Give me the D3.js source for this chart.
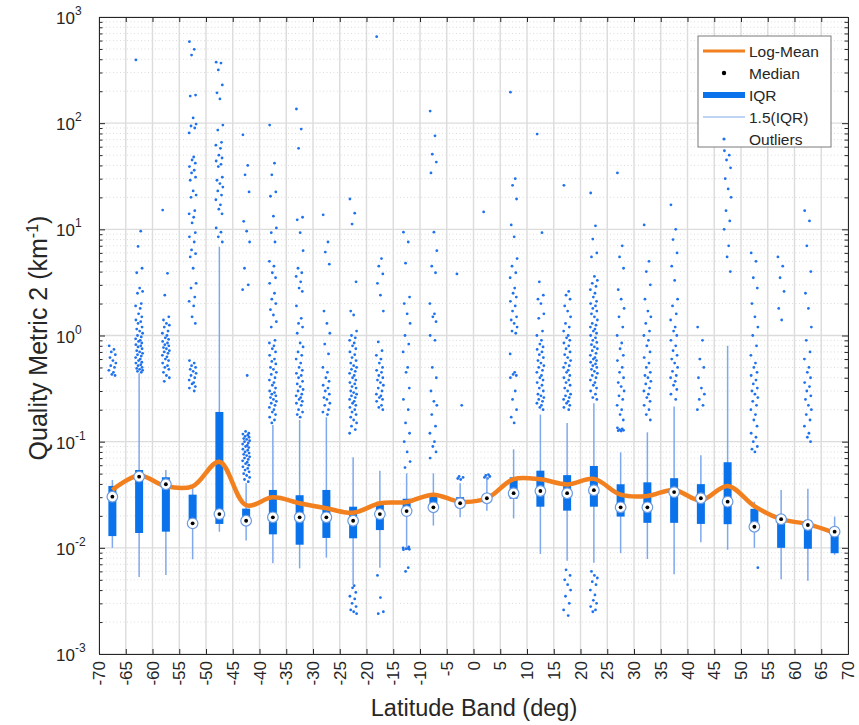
<!DOCTYPE html>
<html>
<head>
<meta charset="utf-8">
<script src="https://cdn.jsdelivr.net/npm/d3@7"></script>
<style>
  body { margin: 0; background: #fff; }
  text { font-family: "Liberation Sans", Arial, sans-serif; fill: #262626; }
</style>
</head>
<body>
<svg id="chart" width="859" height="725"></svg>
<script>
// latitude band centres (deg)
const latBands = [-67.5, -62.5, -57.5, -52.5, -47.5, -42.5, -37.5, -32.5, -27.5, -22.5, -17.5, -12.5, -7.5, -2.5,
                  2.5, 7.5, 12.5, 17.5, 22.5, 27.5, 32.5, 37.5, 42.5, 47.5, 52.5, 57.5, 62.5, 67.5];
const xTicks = [-70, -65, -60, -55, -50, -45, -40, -35, -30, -25, -20, -15, -10, -5, 0, 5, 10, 15, 20, 25, 30, 35, 40, 45, 50, 55, 60, 65, 70];
const yExponents = [-3, -2, -1, 0, 1, 2, 3];

const logMean = [0.0351, 0.048, 0.038, 0.038, 0.0648, 0.0252, 0.0299, 0.0263, 0.0236, 0.0214, 0.0263, 0.027, 0.0317, 0.0272,
                 0.0293, 0.0444, 0.0442, 0.0396, 0.0446, 0.0317, 0.0308, 0.0351, 0.028, 0.0383, 0.0247, 0.0186, 0.0167, 0.0138];
const median  = [0.0303, 0.0468, 0.0397, 0.017, 0.0208, 0.018, 0.0194, 0.0194, 0.0194, 0.018, 0.0208, 0.0222, 0.0241, 0.0263,
                 0.0293, 0.0327, 0.0343, 0.0327, 0.0349, 0.0241, 0.0241, 0.0335, 0.0293, 0.0272, 0.0158, 0.0186, 0.0164, 0.0142];
const q1      = [0.0129, 0.0138, 0.0142, 0.0165, 0.0168, 0.0168, 0.0134, 0.0107, 0.0124, 0.0123, 0.0147, 0.021, 0.023, 0.024,
                 0.027, 0.029, 0.0244, 0.0224, 0.0244, 0.0197, 0.0172, 0.0172, 0.0168, 0.0167, 0.015, 0.01, 0.0098, 0.0089];
const q3      = [0.0383, 0.0541, 0.0462, 0.0317, 0.1905, 0.0234, 0.0351, 0.0313, 0.0351, 0.0244, 0.0266, 0.029, 0.0317, 0.030,
                 0.032, 0.0462, 0.0533, 0.0484, 0.059, 0.0397, 0.0414, 0.0453, 0.0398, 0.064, 0.0233, 0.019, 0.018, 0.0155];
const whiskLo = [0.0100, 0.0053, 0.00555, 0.0078, 0.0142, 0.0117, 0.00715, 0.0064, 0.00808, 0.00447, 0.0065, 0.0100, 0.0162, 0.0194,
                 0.0223, 0.0189, 0.00875, 0.00757, 0.00725, 0.0089, 0.00785, 0.00564, 0.0113, 0.0096, 0.0100, 0.00506, 0.0049, 0.0086];
const whiskHi = [0.0436, 0.44, 0.054, 0.0364, 6.87, 0.0408, 0.1436, 0.16, 0.17, 0.0713, 0.0533, 0.0503, 0.0503, 0.0405,
                 0.0468, 0.0848, 0.18, 0.15, 0.23, 0.0794, 0.1225, 0.214, 0.0745, 0.8, 0.0272, 0.0351, 0.036, 0.0197];

// outliers per band
const outliers = [
  [0.8, 0.74, 0.7, 0.66, 0.62, 0.58, 0.55, 0.52, 0.5, 0.47, 0.45, 0.43, 0.42],
  [394, 9.6, 6.9, 4.3, 3.9, 2.8, 2.6, 2.5, 2.0, 1.9, 1.8, 1.6, 1.5, 1.4, 1.35, 1.3, 1.2, 1.15, 1.1, 1.05, 1.0, 0.97, 0.93, 0.9,
   0.88, 0.85, 0.82, 0.8, 0.78, 0.75, 0.72, 0.7, 0.68, 0.66, 0.64, 0.62, 0.6, 0.58, 0.56, 0.55, 0.53, 0.52, 0.5, 0.49, 0.48, 0.47, 0.46, 0.45],
  [15.2, 3.85, 2.4, 1.5, 1.4, 1.3, 1.25, 1.2, 1.1, 1.05, 1.0, 0.95, 0.92, 0.88, 0.85, 0.82, 0.8, 0.77, 0.75, 0.72, 0.7, 0.68,
   0.65, 0.63, 0.6, 0.58, 0.55, 0.52, 0.5, 0.48, 0.45, 0.42, 0.4, 0.37],
  [585, 496, 438, 184, 180, 112, 98, 94, 90, 81, 48, 45, 42, 39, 36, 34, 31, 29, 23, 21, 20, 15, 14, 13, 11.5, 9.3, 8.5, 7.6,
   6.4, 5.9, 5.5, 4.3, 3.1, 2.8, 2.3, 2.1, 1.9, 1.5, 1.3, 0.58, 0.55, 0.52, 0.5, 0.48, 0.46, 0.44, 0.42, 0.4, 0.38, 0.36, 0.35, 0.33, 0.32, 0.3],
  [375, 368, 317, 229, 193, 169, 96, 86, 66, 62, 58, 50, 47, 44, 41, 39, 31, 29, 27, 25, 23, 21, 19, 17, 15.5, 14, 10.3, 9.4, 8.5, 7.6],
  [77.6, 40, 32.6, 22.5, 11.9, 9.6, 7.6, 4.3, 3.0, 2.7, 0.42, 0.125, 0.12, 0.118, 0.115, 0.112, 0.11, 0.107, 0.105, 0.102, 0.1,
   0.097, 0.095, 0.092, 0.09, 0.088, 0.085, 0.083, 0.08, 0.078, 0.076, 0.074, 0.072, 0.07, 0.068, 0.066, 0.064, 0.062, 0.06,
   0.058, 0.056, 0.054, 0.052, 0.05, 0.048, 0.046, 0.044, 0.042],
  [96, 42, 32.6, 22.5, 20.5, 13.3, 10.3, 9.3, 7.6, 5, 4.5, 3.9, 3.5, 3.1, 2.5, 2.2, 2.0, 1.75, 1.56, 1.35, 1.2, 0.9, 0.85, 0.8,
   0.75, 0.7, 0.65, 0.6, 0.57, 0.54, 0.5, 0.48, 0.45, 0.43, 0.4, 0.38, 0.36, 0.34, 0.32, 0.3, 0.29, 0.28, 0.27, 0.26, 0.25, 0.24,
   0.23, 0.22, 0.21, 0.2, 0.19, 0.18, 0.17, 0.16, 0.15],
  [136, 88, 58, 13, 12.3, 9.3, 6.3, 4.3, 3.9, 3.6, 3.2, 2.8, 2.6, 1.9, 1.45, 1.3, 1.2, 1.05, 0.85, 0.78, 0.7, 0.65, 0.6, 0.55,
   0.5, 0.47, 0.44, 0.42, 0.4, 0.37, 0.35, 0.33, 0.31, 0.3, 0.28, 0.27, 0.26, 0.25, 0.24, 0.23, 0.22, 0.2, 0.19, 0.18, 0.17],
  [13.7, 7.6, 6.1, 4.7, 1.7, 1.3, 1.05, 0.83, 0.67, 0.5, 0.45, 0.4, 0.37, 0.34, 0.32, 0.3, 0.28, 0.26, 0.25, 0.23, 0.22, 0.2, 0.19, 0.18],
  [19.3, 14.2, 11.2, 3.2, 1.7, 1.56, 1.1, 1.0, 0.95, 0.9, 0.85, 0.8, 0.75, 0.7, 0.66, 0.62, 0.58, 0.55, 0.52, 0.5, 0.48, 0.46,
   0.44, 0.42, 0.4, 0.38, 0.36, 0.35, 0.33, 0.32, 0.3, 0.29, 0.28, 0.27, 0.26, 0.25, 0.24, 0.23, 0.22, 0.21, 0.2, 0.19, 0.18,
   0.17, 0.16, 0.15, 0.14, 0.13, 0.12, 0.0044, 0.0042, 0.0038, 0.0035, 0.0033, 0.003, 0.0028, 0.0026, 0.0025, 0.0024],
  [653, 5.3, 4.5, 3.8, 3.1, 2.4, 1.7, 0.87, 0.72, 0.65, 0.6, 0.55, 0.5, 0.47, 0.45, 0.42, 0.4, 0.38, 0.36, 0.34, 0.32, 0.3,
   0.28, 0.27, 0.26, 0.25, 0.24, 0.22, 0.21, 0.2, 0.0055, 0.0034, 0.0025, 0.0024],
  [9.4, 7.6, 4.8, 2.3, 2.0, 1.6, 1.3, 1.0, 0.83, 0.7, 0.5, 0.45, 0.32, 0.25, 0.2, 0.15, 0.12, 0.1, 0.08, 0.065, 0.057,
   0.0102, 0.01, 0.0099, 0.0098, 0.0097, 0.0096, 0.0065, 0.006],
  [130, 76, 51, 43, 34, 9.4, 6.3, 4.5, 3.9, 2.0, 1.6, 1.5, 1.35, 1.0, 0.9, 0.5, 0.4, 0.3, 0.24, 0.22, 0.18, 0.14, 0.12, 0.1, 0.09, 0.08, 0.07],
  [3.8, 0.22, 0.047, 0.046, 0.045, 0.044],
  [14.6, 0.049, 0.048, 0.047, 0.046, 0.045],
  [196, 30, 26, 19.3, 11, 8.5, 5.3, 4.5, 3.9, 3.5, 2.8, 2.5, 2.3, 2.1, 1.9, 1.7, 1.5, 1.4, 1.3, 1.2, 1.1, 1.05, 0.67, 0.45,
   0.43, 0.42, 0.4, 0.3, 0.25, 0.2, 0.17, 0.15],
  [79, 9.3, 3.2, 2.4, 2.2, 2.0, 1.6, 1.45, 1.1, 1.0, 0.9, 0.83, 0.78, 0.74, 0.7, 0.66, 0.62, 0.58, 0.55, 0.52, 0.5, 0.47, 0.45,
   0.42, 0.4, 0.38, 0.36, 0.34, 0.32, 0.3, 0.28, 0.27, 0.26, 0.25, 0.24, 0.23, 0.22, 0.21, 0.2],
  [26, 2.6, 2.4, 2.2, 1.9, 1.7, 1.5, 1.3, 1.2, 1.1, 1.0, 0.95, 0.9, 0.85, 0.8, 0.75, 0.7, 0.66, 0.62, 0.58, 0.55, 0.52, 0.5,
   0.47, 0.45, 0.42, 0.4, 0.38, 0.36, 0.34, 0.32, 0.3, 0.28, 0.27, 0.26, 0.25, 0.24, 0.23, 0.22, 0.21, 0.2,
   0.0062, 0.0055, 0.005, 0.0045, 0.004, 0.0035, 0.003, 0.0026, 0.0023],
  [22, 10.8, 8.1, 6, 5.5, 3.6, 3.3, 3.1, 2.9, 2.7, 2.5, 2.3, 2.1, 2.0, 1.9, 1.8, 1.7, 1.6, 1.5, 1.4, 1.3, 1.25, 1.2, 1.15,
   1.1, 1.05, 1.0, 0.95, 0.9, 0.86, 0.82, 0.78, 0.75, 0.72, 0.68, 0.65, 0.62, 0.6, 0.58, 0.56, 0.54, 0.52, 0.5, 0.48, 0.46,
   0.44, 0.42, 0.4, 0.38, 0.36, 0.34, 0.32, 0.3, 0.28, 0.26, 0.25,
   0.006, 0.0055, 0.0052, 0.0048, 0.0045, 0.004, 0.0036, 0.0032, 0.003, 0.0028, 0.0026, 0.0025],
  [34, 7, 5.5, 4.3, 2.7, 2.2, 1.8, 1.5, 1.2, 1.0, 0.85, 0.75, 0.65, 0.58, 0.5, 0.45, 0.4, 0.36, 0.33, 0.3, 0.27, 0.25, 0.22,
   0.2, 0.18, 0.16, 0.135, 0.132, 0.13, 0.128, 0.127, 0.126],
  [11, 5, 4, 3, 2.2, 1.7, 1.5, 1.3, 1.1, 1.0, 0.9, 0.8, 0.7, 0.62, 0.55, 0.5, 0.45, 0.42, 0.4, 0.37, 0.35, 0.32, 0.3, 0.28,
   0.26, 0.24, 0.22, 0.2, 0.18, 0.16],
  [17, 10, 8, 6, 4.5, 3.3, 2.2, 1.9, 1.6, 1.4, 1.2, 1.1, 1.0, 0.9, 0.8, 0.72, 0.65, 0.6, 0.55, 0.5, 0.46, 0.42, 0.4, 0.37,
   0.34, 0.31, 0.28, 0.25],
  [1.2, 0.9, 0.6, 0.5, 0.4, 0.32, 0.28, 0.25, 0.22, 0.2],
  [55, 50, 45, 38, 30, 24, 20, 15, 12, 10, 7, 5.5, 4],
  [6, 5, 3.5, 2.8, 2, 1.5, 1.2, 1.0, 0.8, 0.65, 0.55, 0.5, 0.45, 0.42, 0.38, 0.35, 0.32, 0.3, 0.28, 0.26, 0.24, 0.22, 0.2,
   0.18, 0.16, 0.14, 0.12, 0.11, 0.1, 0.09, 0.085, 0.08, 0.0065],
  [5.5, 4.5, 3.5, 2.6, 1.8, 1.4],
  [15, 12, 7, 4, 2.5, 1.8, 1.2, 0.9, 0.7, 0.6, 0.5, 0.45, 0.4, 0.36, 0.33, 0.3, 0.27, 0.25, 0.22, 0.2, 0.18, 0.16, 0.14,
   0.12, 0.11, 0.1],
  []
];

const legendItems = ["Log-Mean", "Median", "IQR", "1.5(IQR)", "Outliers"];

const pL = 99, pR = 848, pT = 17, pB = 654;
const cBox = "#0a72ea", cWhisk = "#7fa9ec", cDot = "#1f72ee", cMean = "#f2801f", cAxis = "#262626";

const svg = d3.select("#chart");
const x = d3.scaleLinear().domain([-70, 70]).range([pL, pR]);
const y = d3.scaleLog().domain([1e-3, 1e3]).range([pB, pT]);

// minor values for grid / ticks
let minorVals = [];
yExponents.slice(0, -1).forEach(e => {
  for (let k = 2; k <= 9; k++) minorVals.push(k * Math.pow(10, e));
});
const majorVals = yExponents.map(e => Math.pow(10, e));

const grid = svg.append("g");
grid.selectAll(".minor").data(minorVals).enter().append("line")
  .attr("x1", pL).attr("x2", pR)
  .attr("y1", d => y(d)).attr("y2", d => y(d))
  .attr("stroke", "#d4d4d4").attr("stroke-width", 0.8).attr("stroke-dasharray", "1,2.5");
grid.selectAll(".major").data(majorVals).enter().append("line")
  .attr("x1", pL).attr("x2", pR)
  .attr("y1", d => y(d)).attr("y2", d => y(d))
  .attr("stroke", "#dcdcdc").attr("stroke-width", 1.4);
grid.selectAll(".vgrid").data(xTicks).enter().append("line")
  .attr("x1", d => x(d)).attr("x2", d => x(d))
  .attr("y1", pT).attr("y2", pB)
  .attr("stroke", "#dcdcdc").attr("stroke-width", 1.4);

// outliers
const jitter = [-0.6, 0.3, -0.2, 0.55, -0.45, 0.1, 0.65, -0.3, 0.4, -0.65, 0.2, -0.1, 0.5];
const outData = [];
outliers.forEach((arr, b) => arr.forEach((v, i) => outData.push({lat: latBands[b] + jitter[i % jitter.length], v: v})));
svg.append("g").selectAll("circle").data(outData).enter().append("circle")
  .attr("cx", d => x(d.lat)).attr("cy", d => y(d.v)).attr("r", 1.4)
  .attr("fill", cDot);

// whiskers
svg.append("g").selectAll("line").data(latBands).enter().append("line")
  .attr("x1", d => x(d)).attr("x2", d => x(d))
  .attr("y1", (d, i) => y(whiskLo[i])).attr("y2", (d, i) => y(whiskHi[i]))
  .attr("stroke", cWhisk).attr("stroke-width", 1.5);

// IQR boxes
svg.append("g").selectAll("rect").data(latBands).enter().append("rect")
  .attr("x", d => x(d) - 4).attr("width", 8)
  .attr("y", (d, i) => y(q3[i])).attr("height", (d, i) => y(q1[i]) - y(q3[i]))
  .attr("fill", cBox);

// log-mean line
const line = d3.line().x((d, i) => x(latBands[i])).y(d => y(d)).curve(d3.curveCatmullRom.alpha(0.5));
svg.append("path").datum(logMean).attr("d", line)
  .attr("fill", "none").attr("stroke", cMean).attr("stroke-width", 4.5).attr("stroke-linejoin", "round");

// medians
const med = svg.append("g").selectAll("g").data(latBands).enter().append("g")
  .attr("transform", (d, i) => `translate(${x(d)},${y(median[i])})`);
med.append("circle").attr("r", 5.3).attr("fill", "#fff").attr("stroke", "#6d9be0").attr("stroke-width", 1.2);
med.append("circle").attr("r", 1.9).attr("fill", "#000");

// axes
const axisG = svg.append("g");
axisG.append("g").attr("transform", `translate(0,${pB})`)
  .call(d3.axisBottom(x).tickValues(xTicks).tickSize(-5).tickSizeOuter(0).tickFormat(""));
axisG.append("g").attr("transform", `translate(0,${pT})`)
  .call(d3.axisTop(x).tickValues(xTicks).tickSize(-5).tickSizeOuter(0).tickFormat(""));
axisG.append("g").attr("transform", `translate(${pL},0)`)
  .call(d3.axisLeft(y).tickValues(majorVals).tickSize(-6).tickSizeOuter(0).tickFormat(""));
axisG.append("g").attr("transform", `translate(${pL},0)`)
  .call(d3.axisLeft(y).tickValues(minorVals).tickSize(-3.5).tickSizeOuter(0).tickFormat(""));
axisG.append("g").attr("transform", `translate(${pR},0)`)
  .call(d3.axisRight(y).tickValues(majorVals).tickSize(-6).tickSizeOuter(0).tickFormat(""));
axisG.append("g").attr("transform", `translate(${pR},0)`)
  .call(d3.axisRight(y).tickValues(minorVals).tickSize(-3.5).tickSizeOuter(0).tickFormat(""));
axisG.selectAll(".domain").attr("stroke", cAxis);
axisG.selectAll(".tick line").attr("stroke", cAxis);

// x tick labels, rotated
svg.append("g").selectAll("text").data(xTicks).enter().append("text")
  .attr("transform", d => `translate(${x(d) + 6},${pB + 7}) rotate(-90)`)
  .attr("text-anchor", "end").attr("font-size", 17).text(d => d);

// y tick labels
const yl = svg.append("g").selectAll("text").data(yExponents).enter().append("text")
  .attr("x", 56).attr("y", d => y(Math.pow(10, d)) + 7)
  .attr("font-size", 17);
yl.append("tspan").text("10");
yl.append("tspan").attr("dy", -9).attr("font-size", 12).text(d => d);

// axis titles
svg.append("text").attr("x", 474).attr("y", 716).attr("text-anchor", "middle")
  .attr("font-size", 23.5).text("Latitude Band (deg)");
const yt = svg.append("text").attr("transform", "translate(47,338) rotate(-90)")
  .attr("text-anchor", "middle").attr("font-size", 25);
yt.append("tspan").text("Quality Metric 2 (km");
yt.append("tspan").attr("dy", -9).attr("font-size", 16).text("-1");
yt.append("tspan").attr("dy", 9).text(")");

// legend
const lg = svg.append("g").attr("transform", "translate(698,36)");
lg.append("rect").attr("width", 133).attr("height", 111).attr("fill", "#fff").attr("stroke", "#7a7a7a").attr("stroke-width", 1);
const rowY = i => 15 + i * 22;
lg.append("line").attr("x1", 5).attr("x2", 47).attr("y1", rowY(0)).attr("y2", rowY(0)).attr("stroke", cMean).attr("stroke-width", 3);
lg.append("circle").attr("cx", 26).attr("cy", rowY(1)).attr("r", 2.2).attr("fill", "#000");
lg.append("line").attr("x1", 5).attr("x2", 47).attr("y1", rowY(2)).attr("y2", rowY(2)).attr("stroke", cBox).attr("stroke-width", 6);
lg.append("line").attr("x1", 5).attr("x2", 47).attr("y1", rowY(3)).attr("y2", rowY(3)).attr("stroke", cWhisk).attr("stroke-width", 1.2);
lg.append("circle").attr("cx", 26).attr("cy", rowY(4)).attr("r", 1.6).attr("fill", cDot);
lg.selectAll(".lt").data(legendItems).enter().append("text")
  .attr("x", 51).attr("y", (d, i) => rowY(i) + 5.5).attr("font-size", 15.5).text(d => d);
</script>
</body>
</html>
